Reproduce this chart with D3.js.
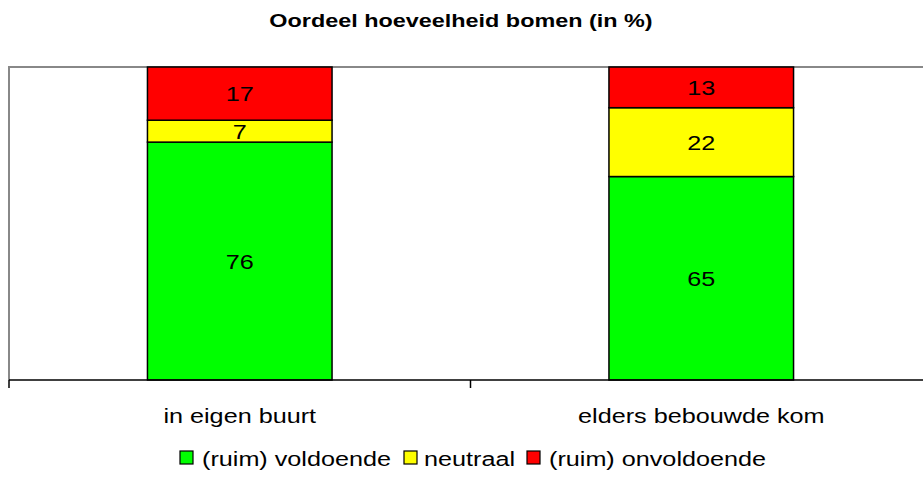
<!DOCTYPE html>
<html>
  <head>
    <meta charset="utf-8">
    <script src="https://d3js.org/d3.v7.min.js"></script>
    <style>
      body { margin: 0; background: white; }
      text { font-family: "Liberation Sans", Arial, sans-serif; }
    </style>
  </head>
  <body>
    <div id="chart"></div>
    <script>
    // data
    var categories = ["in eigen buurt", "elders bebouwde kom"]
    var seriesNames = ["(ruim) voldoende", "neutraal", "(ruim) onvoldoende"]
    var seriesColors = ["#00ff00", "#ffff00", "#ff0000"]
    var voldoende = [76, 65]
    var neutraal = [7, 22]
    var onvoldoende = [17, 13]

    var W = 923, H = 499
    var margin = {top: 67, left: 9, bottom: 119, right: -9}
    var width = W - margin.left - margin.right
    var height = H - margin.top - margin.bottom
    var SX = 1.2 // text in the original is stretched horizontally

    var svg = d3.select("#chart").append("svg")
      .attr("width", W).attr("height", H)

    // rows for the stack
    var rows = categories.map(function(c, i) {
      return {cat: c, v0: voldoende[i], v1: neutraal[i], v2: onvoldoende[i]}
    })
    var stack = d3.stack().keys(["v0", "v1", "v2"])(rows)

    var x = d3.scaleBand().domain(categories).range([0, width]).paddingInner(0.6).paddingOuter(0.3)
    var y = d3.scaleLinear().domain([0, 100]).range([height, 0])

    var g = svg.append("g").attr("transform", "translate(" + margin.left + "," + margin.top + ")")

    // plot area border (grey)
    g.append("path")
      .attr("d", "M0," + height + "V0H" + width)
      .attr("fill", "none").attr("stroke", "#888").attr("stroke-width", 2)

    // bars
    var layer = g.selectAll(".layer").data(stack).enter().append("g")
      .attr("fill", function(d, i) { return seriesColors[i] })

    layer.selectAll("rect").data(function(d) { return d }).enter().append("rect")
      .attr("x", function(d) { return x(d.data.cat) })
      .attr("width", x.bandwidth())
      .attr("y", function(d) { return y(d[1]) })
      .attr("height", function(d) { return y(d[0]) - y(d[1]) })
      .attr("stroke", "#000").attr("stroke-width", 1.5)

    // value labels
    layer.selectAll("text").data(function(d) { return d }).enter().append("text")
      .attr("transform", function(d) {
        return "translate(" + (x(d.data.cat) + x.bandwidth() / 2) + "," + ((y(d[0]) + y(d[1])) / 2) + ") scale(" + SX + ",1)"
      })
      .attr("dy", "0.36em")
      .attr("text-anchor", "middle")
      .attr("font-size", 21)
      .attr("fill", "#000")
      .text(function(d) { return d[1] - d[0] })

    // x axis
    var xStep = width / categories.length
    var axis = g.append("g").attr("transform", "translate(0," + height + ")")
    axis.append("line").attr("x1", 0).attr("x2", width).attr("stroke", "#000").attr("stroke-width", 1.5)
    axis.selectAll(".tick").data(d3.range(categories.length + 1)).enter().append("line")
      .attr("x1", function(d) { return d * xStep }).attr("x2", function(d) { return d * xStep })
      .attr("y1", 0).attr("y2", 8).attr("stroke", "#000").attr("stroke-width", 1.5)
    axis.selectAll(".lbl").data(categories).enter().append("text")
      .attr("transform", function(d) { return "translate(" + (x(d) + x.bandwidth() / 2) + ",43) scale(" + SX + ",1)" })
      .attr("text-anchor", "middle")
      .attr("font-size", 21)
      .text(function(d) { return d })

    // title
    svg.append("text")
      .attr("transform", "translate(461,27) scale(1.3,1)")
      .attr("text-anchor", "middle")
      .attr("font-size", 18).attr("font-weight", "bold")
      .text("Oordeel hoeveelheid bomen (in %)")

    // legend
    var legend = svg.append("g").attr("transform", "translate(180,458)")
    var offs = [0, 224, 347]
    var items = legend.selectAll("g").data(seriesNames).enter().append("g")
      .attr("transform", function(d, i) { return "translate(" + offs[i] + ",0)" })
    items.append("rect")
      .attr("x", 0).attr("y", -7).attr("width", 13).attr("height", 13)
      .attr("fill", function(d, i) { return seriesColors[i] })
      .attr("stroke", "#000").attr("stroke-width", 1.2)
    items.append("text")
      .attr("transform", function(d, i) { return "translate(" + (i == 1 ? 20 : 22) + ",0) scale(" + SX + ",1)" })
      .attr("dy", "0.36em")
      .attr("font-size", 21)
      .text(function(d) { return d })
    </script>
  </body>
</html>
